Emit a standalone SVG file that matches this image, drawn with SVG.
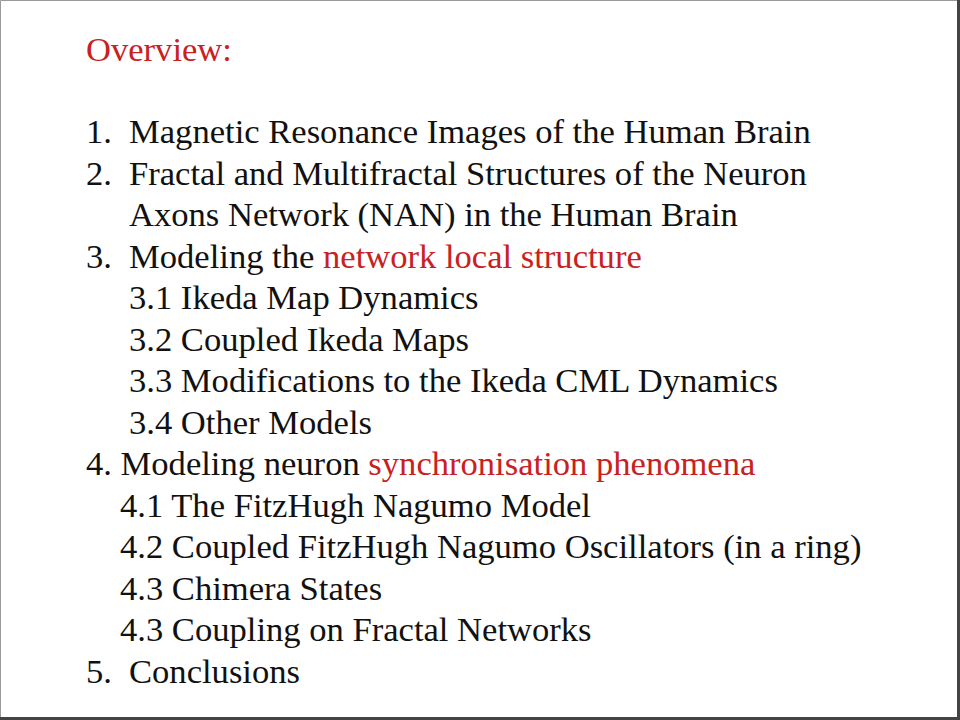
<svg xmlns="http://www.w3.org/2000/svg" width="960" height="720" viewBox="0 0 960 720">
<style>
text{font-family:"Liberation Serif","Times New Roman",serif;font-size:34.6px;fill:#111}
.r{fill:#c9211e}
</style>
<rect x="0" y="0" width="960" height="720" fill="#fff"/>
<path d="M0.5 719V0.5H958" fill="none" stroke="#9a9a9a" stroke-width="1"/>
<path d="M958.5 0V718.5H0" fill="none" stroke="#444" stroke-width="3"/>
<g id="content">
<text x="86" y="61" class="r">Overview:</text>
<text x="86" y="143">1.</text><text x="129" y="143">Magnetic Resonance Images of the Human Brain</text>
<text x="86" y="184.5">2.</text><text x="129" y="184.5">Fractal and Multifractal Structures of the Neuron</text>
<text x="129" y="226">Axons Network (NAN) in the Human Brain</text>
<text x="86" y="267.5">3.</text><text x="129" y="267.5">Modeling the <tspan class="r">network local structure</tspan></text>
<text x="129" y="309">3.1 Ikeda Map Dynamics</text>
<text x="129" y="350.5">3.2 Coupled Ikeda Maps</text>
<text x="129" y="392">3.3 Modifications to the Ikeda CML Dynamics</text>
<text x="129" y="433.5">3.4 Other Models</text>
<text x="86" y="475">4. Modeling neuron <tspan class="r">synchronisation phenomena</tspan></text>
<text x="120" y="516.5">4.1 The FitzHugh Nagumo Model</text>
<text x="120" y="558">4.2 Coupled FitzHugh Nagumo Oscillators (in a ring)</text>
<text x="120" y="599.5">4.3 Chimera States</text>
<text x="120" y="641">4.3 Coupling on Fractal Networks</text>
<text x="86" y="682.5">5.</text><text x="129" y="682.5">Conclusions</text>
</g>
</svg>
